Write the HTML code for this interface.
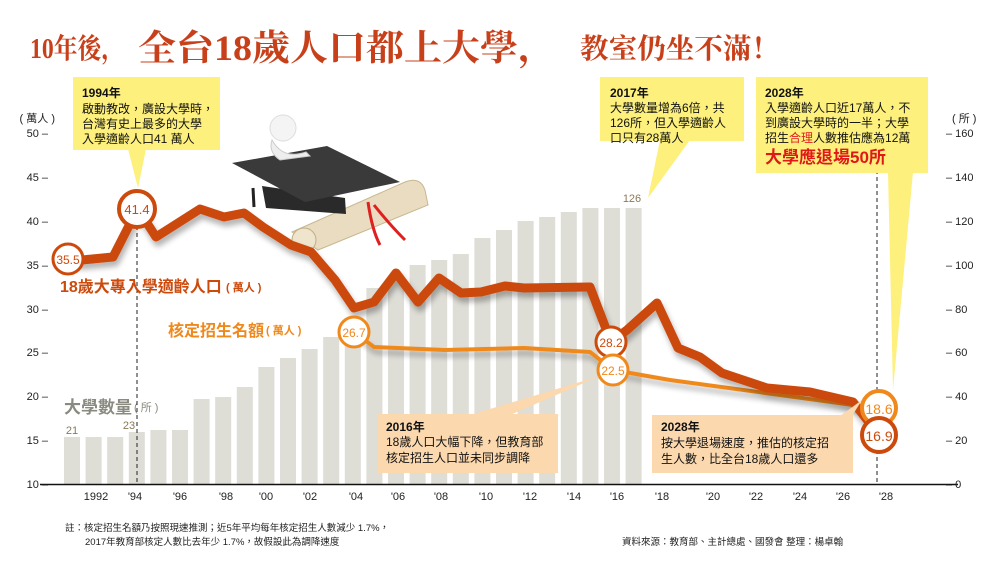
<!DOCTYPE html>
<html><head><meta charset="utf-8"><style>
html,body{margin:0;padding:0;background:#fff;}
svg{display:block;}
text{font-family:"Liberation Sans","Noto Sans CJK TC",sans-serif;}
.ser{font-family:"Liberation Serif","Noto Serif CJK SC",serif;font-weight:bold;}
.ax{font-size:11px;fill:#222;}
.xl{font-size:11px;fill:#222;text-anchor:middle;}
.cb{font-size:12px;fill:#111;}
</style></head><body>
<svg width="1000" height="566" viewBox="0 0 1000 566" xmlns="http://www.w3.org/2000/svg">
<defs>
<filter id="sh" x="-10%" y="-10%" width="120%" height="140%"><feGaussianBlur in="SourceAlpha" stdDeviation="3"/><feOffset dx="2" dy="5"/><feComponentTransfer><feFuncA type="linear" slope="0.3"/></feComponentTransfer><feMerge><feMergeNode/><feMergeNode in="SourceGraphic"/></feMerge></filter>
</defs>
<!-- title -->
<text class="ser" x="30" y="58" font-size="28" fill="#c8401a" textLength="95" lengthAdjust="spacingAndGlyphs">10年後，</text>
<text class="ser" x="138" y="60" font-size="36" fill="#c8401a" textLength="418" lengthAdjust="spacingAndGlyphs">全台18歲人口都上大學，</text>
<text class="ser" x="580" y="58" font-size="28" fill="#c8401a" textLength="200" lengthAdjust="spacingAndGlyphs">教室仍坐不滿！</text>

<!-- bars -->
<g fill="#deddd6">
<rect x="64" y="437" width="16" height="47"/>
<rect x="85.6" y="437" width="16" height="47"/>
<rect x="107.2" y="437" width="16" height="47"/>
<rect x="128.8" y="432" width="16" height="52"/>
<rect x="150.4" y="430" width="16" height="54"/>
<rect x="172" y="430" width="16" height="54"/>
<rect x="193.6" y="399" width="16" height="85"/>
<rect x="215.2" y="397" width="16" height="87"/>
<rect x="236.8" y="387" width="16" height="97"/>
<rect x="258.4" y="367" width="16" height="117"/>
<rect x="280" y="358" width="16" height="126"/>
<rect x="301.6" y="349" width="16" height="135"/>
<rect x="323.2" y="337" width="16" height="147"/>
<rect x="344.8" y="318" width="16" height="166"/>
<rect x="366.4" y="288" width="16" height="196"/>
<rect x="388" y="280" width="16" height="204"/>
<rect x="409.6" y="265" width="16" height="219"/>
<rect x="431.2" y="260" width="16" height="224"/>
<rect x="452.8" y="254" width="16" height="230"/>
<rect x="474.4" y="238" width="16" height="246"/>
<rect x="496" y="230" width="16" height="254"/>
<rect x="517.6" y="221" width="16" height="263"/>
<rect x="539.2" y="217" width="16" height="267"/>
<rect x="560.8" y="212" width="16" height="272"/>
<rect x="582.4" y="208" width="16" height="276"/>
<rect x="604" y="208" width="16" height="276"/>
<rect x="625.6" y="208" width="16" height="276"/>
</g>
<text x="72" y="434" font-size="11" fill="#8a7a55" text-anchor="middle">21</text>
<text x="129" y="429" font-size="11" fill="#8a7a55" text-anchor="middle">23</text>
<text x="632" y="202" font-size="11" fill="#8a7a55" text-anchor="middle">126</text>
<text x="64" y="413" font-size="17" font-weight="bold" fill="#8a8a80">大學數量</text>
<text x="134" y="411" font-size="11" fill="#8a8a80">( 所 )</text>

<!-- axes -->
<line x1="40" y1="484.5" x2="958" y2="484.5" stroke="#111" stroke-width="1.5"/>
<g class="ax" text-anchor="end">
<text x="55" y="122">( 萬人 )</text>
<text x="48" y="137">50 –</text><text x="48" y="181">45 –</text><text x="48" y="225">40 –</text><text x="48" y="269">35 –</text><text x="48" y="313">30 –</text><text x="48" y="356">25 –</text><text x="48" y="400">20 –</text><text x="48" y="444">15 –</text><text x="48" y="488">10 –</text>
</g>
<g class="ax">
<text x="952" y="122">( 所 )</text>
<text x="946" y="137">– 160</text><text x="946" y="181">– 140</text><text x="946" y="225">– 120</text><text x="946" y="269">– 100</text><text x="946" y="313">– 80</text><text x="946" y="356">– 60</text><text x="946" y="400">– 40</text><text x="946" y="444">– 20</text><text x="946" y="488">– 0</text>
</g>
<g class="xl">
<text x="96" y="500">1992</text><text x="135" y="500">'94</text><text x="180" y="500">'96</text><text x="226" y="500">'98</text><text x="266" y="500">'00</text><text x="310" y="500">'02</text><text x="356" y="500">'04</text><text x="398" y="500">'06</text><text x="441" y="500">'08</text><text x="486" y="500">'10</text><text x="530" y="500">'12</text><text x="574" y="500">'14</text><text x="617" y="500">'16</text><text x="662" y="500">'18</text><text x="713" y="500">'20</text><text x="756" y="500">'22</text><text x="800" y="500">'24</text><text x="843" y="500">'26</text><text x="886" y="500">'28</text>
</g>
<line x1="137" y1="226" x2="137" y2="484" stroke="#222" stroke-dasharray="4,3"/>
<line x1="877" y1="170" x2="877" y2="484" stroke="#222" stroke-dasharray="4,3"/>

<!-- clip art -->
<g>
<path d="M292,232 L405,182 Q420,176 425,190 L428,205 L318,250 Z" fill="#e9dcc0" stroke="#c8b890"/>
<ellipse cx="304" cy="240" rx="12" ry="12" fill="#efe4cc" stroke="#bfae88"/>
<path d="M368,202 Q372,230 380,245 M374,205 Q390,225 405,240" stroke="#e02020" stroke-width="3" fill="none"/>
<path d="M262,186 L345,198 L346,214 L266,208 Z" fill="#2a2a2a"/>
<path d="M232,163 L327,146 L400,182 L305,202 Z" fill="#3a3a3a"/>
<line x1="253" y1="188" x2="254" y2="207" stroke="#222" stroke-width="3"/>
<circle cx="283" cy="128" r="13" fill="#f4f4f4" stroke="#ddd"/>
<path d="M272,140 Q283,160 306,152 L310,156 L280,160 Q268,152 272,140Z" fill="#eee" stroke="#ccc"/>
</g>

<!-- orange line -->
<polyline filter="url(#sh)" points="354,332 374,347 445,350 524,348 590,352 613,370 670,380 853,405 879,408" fill="none" stroke="#f0891c" stroke-width="4" stroke-linejoin="round"/>
<!-- red line -->
<polyline filter="url(#sh)" points="68,259 82,260 113,257 137,210 147,223 156,237 200,209 224,217 244,213 263,227 291,245 311,252 335,280 354,308 374,302 396,273 418,302 439,278 461,293 481,292 505,286 524,288 590,287 611,342 627,330 657,303 678,348 700,357 722,373 767,388 810,392 853,402 879,435" fill="none" stroke="#cc4a0c" stroke-width="9" stroke-linejoin="round"/>

<!-- circles -->
<g font-size="12" text-anchor="middle">
<circle cx="68" cy="259" r="15" fill="#fff" stroke="#cc4a0c" stroke-width="3"/><text x="68" y="264" fill="#cc4a0c">35.5</text>
<circle cx="137" cy="209" r="18" fill="#fff" stroke="#cc4a0c" stroke-width="4"/><text x="137" y="214" fill="#cc4a0c" font-size="13">41.4</text>
<circle cx="611" cy="342" r="15" fill="#fff" stroke="#cc4a0c" stroke-width="3"/><text x="611" y="347" fill="#cc4a0c">28.2</text>
<circle cx="354" cy="332" r="15" fill="#fff" stroke="#f0891c" stroke-width="3"/><text x="354" y="337" fill="#f0891c">26.7</text>
<circle cx="613" cy="370" r="15" fill="#fff" stroke="#f0891c" stroke-width="3"/><text x="613" y="375" fill="#f0891c">22.5</text>
<circle cx="879" cy="408" r="17" fill="#fff" stroke="#f0891c" stroke-width="4"/><text x="879" y="414" fill="#f0891c" font-size="14">18.6</text>
<circle cx="879" cy="435" r="17" fill="#fff" stroke="#cc4a0c" stroke-width="4"/><text x="879" y="441" fill="#cc4a0c" font-size="14">16.9</text>
</g>
<text x="60" y="292" font-size="16" font-weight="bold" fill="#cc4a0c">18歲大專入學適齡人口</text>
<text x="226" y="291" font-size="11" font-weight="bold" fill="#cc4a0c">( 萬人 )</text>
<text x="168" y="336" font-size="16" font-weight="bold" fill="#f0891c">核定招生名額</text>
<text x="266" y="334" font-size="11" font-weight="bold" fill="#f0891c">( 萬人 )</text>

<!-- yellow callouts -->
<g fill="#fdf07c">
<rect x="73" y="77" width="147" height="73"/><polygon points="128,149 146,149 138,188"/>
<rect x="600" y="77" width="144" height="64"/><polygon points="660,140 690,140 648,198"/>
<rect x="756" y="77" width="172" height="96"/><polygon points="888,172 913,172 893,390"/>
</g>
<g class="cb">
<text x="82" y="97" font-weight="bold">1994年</text>
<text x="82" y="113">啟動教改，廣設大學時，</text>
<text x="82" y="128">台灣有史上最多的大學</text>
<text x="82" y="143">入學適齡人口41 萬人</text>
<text x="610" y="97" font-weight="bold">2017年</text>
<text x="610" y="112">大學數量增為6倍，共</text>
<text x="610" y="127">126所，但入學適齡人</text>
<text x="610" y="142">口只有28萬人</text>
<text x="765" y="97" font-weight="bold">2028年</text>
<text x="765" y="112">入學適齡人口近17萬人，不</text>
<text x="765" y="127">到廣設大學時的一半；大學</text>
<text x="765" y="142">招生<tspan fill="#e02020">合理</tspan>人數推估應為12萬</text>
<text x="765" y="163" font-size="17" font-weight="bold" fill="#e01818">大學應退場50所</text>
</g>

<!-- peach callouts -->
<g fill="#fbd8ae">
<rect x="377" y="414" width="181" height="59"/><polygon points="470,415 510,415 600,376"/>
<rect x="652" y="415" width="201" height="58"/><polygon points="840,416 852,416 862,400"/>
</g>
<g class="cb">
<text x="386" y="431" font-weight="bold">2016年</text>
<text x="386" y="446">18歲人口大幅下降，但教育部</text>
<text x="386" y="462">核定招生人口並未同步調降</text>
<text x="661" y="431" font-weight="bold">2028年</text>
<text x="661" y="447">按大學退場速度，推估的核定招</text>
<text x="661" y="463">生人數，比全台18歲人口還多</text>
</g>

<!-- footnotes -->
<text x="65" y="531" font-size="9.5" fill="#222">註：核定招生名額乃按照現速推測；近5年平均每年核定招生人數減少 1.7%，</text>
<text x="85" y="545" font-size="9.5" fill="#222">2017年教育部核定人數比去年少 1.7%，故假設此為調降速度</text>
<text x="622" y="545" font-size="9.5" fill="#222">資料來源：教育部、主計總處、國發會  整理：楊卓翰</text>
</svg>
</body></html>
